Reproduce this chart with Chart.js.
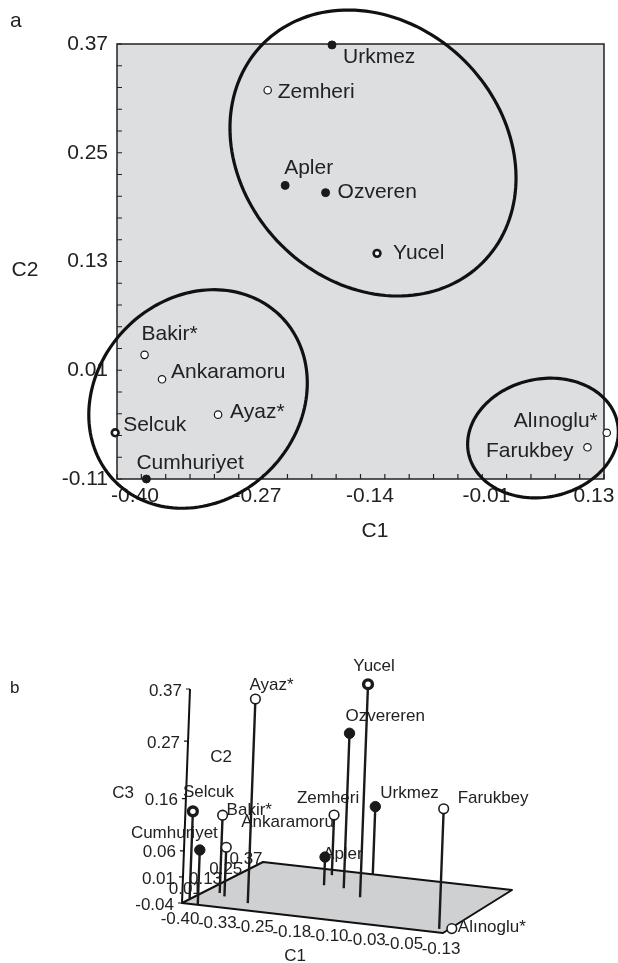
<!DOCTYPE html>
<html><head><meta charset="utf-8">
<script src="https://cdn.jsdelivr.net/npm/chart.js@4.4.0/dist/chart.umd.min.js"></script>
<style>
html,body{margin:0;padding:0;background:#fff;width:618px;height:963px;overflow:hidden;}
canvas{position:absolute;left:0;}
#ca{top:0;} #cb{top:600px;}
</style></head><body>
<canvas id="ca" width="618" height="600"></canvas>
<canvas id="cb" width="618" height="363"></canvas>
<script>
// ---------------- data ----------------
const sites      = ['Urkmez','Zemheri','Apler','Ozveren','Yucel','Bakir*','Ankaramoru','Ayaz*','Selcuk','Cumhuriyet','Alınoglu*','Farukbey'];
const sitesB     = ['Urkmez','Zemheri','Apler','Ozvereren','Yucel','Bakir*','Ankaramoru','Ayaz*','Selcuk','Cumhuriyet','Alınoglu*','Farukbey'];
const markerType = ['filled','open','filled','filled','ring','open','open','open','ring','filled','open','open'];
const c1 = [-0.166,-0.236,-0.217,-0.173,-0.117,-0.370,-0.351,-0.290,-0.402,-0.368, 0.133, 0.112];
const c2 = [ 0.369, 0.319, 0.214, 0.206, 0.139, 0.027, 0.000,-0.039,-0.059,-0.110,-0.059,-0.075];
const c3 = [ 0.090, 0.075, 0.014, 0.257, 0.368, 0.109, 0.054, 0.351, 0.127, 0.065,-0.040, 0.190];

const ticksA_C1 = [-0.40,-0.27,-0.14,-0.01,0.13];
const ticksA_C2 = [-0.11,0.01,0.13,0.25,0.37];
const ticksB_C1 = [-0.40,-0.3243,-0.2486,-0.1729,-0.0971,-0.0214,0.0543,0.13];
const labelsB_C1 = ['-0.40','-0.33','-0.25','-0.18','-0.10','-0.03','-0.05','-0.13'];
const ticksB_C2 = [0.01,0.13,0.25,0.37];
const ticksB_C3 = [0.37,0.27,0.16,0.06,0.01,-0.04];

// group ellipses in (C1,C2) units: centre + two conjugate semi-diameters
const groupEllipses = [
  {cx:-0.1214, cy: 0.2497, ux:0.1193, uy:-0.1209, vx:-0.1000, vy:-0.1014},
  {cx:-0.3118, cy:-0.0217, ux:0.0900, uy: 0.0913, vx: 0.0777, vy:-0.0788},
  {cx: 0.0636, cy:-0.0648, ux:0.0809, uy: 0.0174, vx: 0.0134, vy:-0.0637}
];

// ---------------- layout / style ----------------
const FONT = '"Liberation Sans", Arial, Helvetica, sans-serif';
const INK = '#1a1a1a';
const TXT = '#222';
const labelPosA = [
  ['left',11,12],['left',10,2],['left',-1,-17],['left',12,0],['left',16,0],['left',-3,-21],
  ['left',9,-7],['left',12,-2],['left',8,-8],['left',-10,-16],['right',-9,-12],['right',-14,4]
];
const labelPosB = [
  ['left',5,-13],['center',-6,-17],['left',-2,-3],['left',-4,-17],['center',6,-18],['left',4,-5],
  ['left',15,-25],['left',-6,-14],['left',-10,-19],['right',18,-17],['left',6,-1],['left',14,-10]
];
const xLabelShiftA = [18,21,14,11,-10];

function markerStyle(type, k){
  if (type==='filled') return {r:4*k, bg:INK, bw:1};
  if (type==='ring')   return {r:3.4*k, bg:'#fff', bw:2.6*k};
  return {r:3.7*k, bg:'#fff', bw:1.2*k};
}

// ---------------- panel a ----------------
const stA = markerType.map(t=>markerStyle(t,1));
const panelAPlugin = {
  id:'panelA',
  beforeDraw(chart){
    const {ctx, chartArea:ca} = chart;
    ctx.save();
    ctx.fillStyle = '#dddee0';
    ctx.fillRect(ca.left, ca.top, ca.right-ca.left, ca.bottom-ca.top);
    ctx.restore();
  },
  beforeDatasetsDraw(chart){
    const {ctx, chartArea:ca, scales:{x,y}} = chart;
    ctx.save();
    ctx.strokeStyle = '#222'; ctx.lineWidth = 1.5;
    ctx.strokeRect(ca.left, ca.top, ca.right-ca.left, ca.bottom-ca.top);
    ctx.lineWidth = 1.2;
    ctx.beginPath();
    for (let i=0;i<=20;i++){
      const vy = y.min + i*(y.max-y.min)/20;
      const py = y.getPixelForValue(vy);
      ctx.moveTo(ca.left, py); ctx.lineTo(ca.left+5, py);
      const vx = x.min + i*(x.max-x.min)/20;
      const px = x.getPixelForValue(vx);
      ctx.moveTo(px, ca.bottom); ctx.lineTo(px, ca.bottom-5);
    }
    ctx.stroke();
    ctx.fillStyle = TXT;
    ctx.font = '21px ' + FONT;
    ctx.textBaseline = 'middle';
    ctx.textAlign = 'center';
    ticksA_C1.forEach((v,i)=>{
      ctx.fillText(v.toFixed(2), x.getPixelForValue(v)+xLabelShiftA[i], ca.bottom+17);
    });
    ctx.fillText('C1', 375, 531);
    ctx.fillText('C2', 25, 270);
    ctx.textAlign = 'left';
    ctx.fillText('a', 10, 21);
    sites.forEach((s,i)=>{
      const p = labelPosA[i];
      ctx.textAlign = p[0];
      ctx.fillText(s, x.getPixelForValue(c1[i])+p[1], y.getPixelForValue(c2[i])+p[2]);
    });
    ctx.strokeStyle = '#111'; ctx.lineWidth = 3.2;
    groupEllipses.forEach(e=>{
      ctx.beginPath();
      const N = 160;
      for (let k=0;k<=N;k++){
        const t = k/N*2*Math.PI;
        const px = x.getPixelForValue(e.cx + e.ux*Math.cos(t) + e.vx*Math.sin(t));
        const py = y.getPixelForValue(e.cy + e.uy*Math.cos(t) + e.vy*Math.sin(t));
        k ? ctx.lineTo(px,py) : ctx.moveTo(px,py);
      }
      ctx.closePath(); ctx.stroke();
    });
    ctx.restore();
  }
};

new Chart(document.getElementById('ca'), {
  type:'scatter',
  data:{datasets:[{
    data: sites.map((s,i)=>({x:c1[i], y:c2[i]})),
    pointRadius: stA.map(s=>s.r),
    pointBackgroundColor: stA.map(s=>s.bg),
    pointBorderColor: INK,
    pointBorderWidth: stA.map(s=>s.bw),
    clip:false
  }]},
  options:{
    responsive:false, animation:false, events:[],
    layout:{padding:{left:0, top:44, right:14, bottom:0}, autoPadding:false},
    plugins:{legend:{display:false}, tooltip:{enabled:false}},
    scales:{
      x:{type:'linear', min:-0.40, max:0.13,
         grid:{display:false, drawTicks:false}, border:{display:false},
         ticks:{display:false},
         afterBuildTicks:s=>{s.ticks = ticksA_C1.map(v=>({value:v}));},
         afterFit:s=>{s.height = 600-479; s.paddingLeft = 0; s.paddingRight = 0;}},
      y:{type:'linear', min:-0.11, max:0.37,
         grid:{display:false, drawTicks:false}, border:{display:false},
         ticks:{padding:9, color:TXT, font:{family:FONT, size:21}, callback:v=>Number(v).toFixed(2)},
         afterBuildTicks:s=>{s.ticks = ticksA_C2.map(v=>({value:v}));},
         afterFit:s=>{s.width = 117;}}
    }
  },
  plugins:[panelAPlugin]
});

// ---------------- panel b (oblique 3-D view) ----------------
const rangeB = {c1:[-0.40,0.13], c2:[-0.11,0.37], c3:[-0.04,0.37]};
const view = {ox:182, oy:903, e1:[261,30], e2:[81,-41], e12:[-12,-2], e3:[8,-214]};
function project(a,b,c){
  const f1 = (a-rangeB.c1[0])/(rangeB.c1[1]-rangeB.c1[0]);
  const f2 = (b-rangeB.c2[0])/(rangeB.c2[1]-rangeB.c2[0]);
  const f3 = (c-rangeB.c3[0])/(rangeB.c3[1]-rangeB.c3[0]);
  return {
    x: view.ox + view.e1[0]*f1 + view.e2[0]*f2 + view.e12[0]*f1*f2 + view.e3[0]*f3,
    y: view.oy + view.e1[1]*f1 + view.e2[1]*f2 + view.e12[1]*f1*f2 + view.e3[1]*f3
  };
}
const stB = markerType.map(t=>markerStyle(t,1.3));
const z0 = rangeB.c3[0];

const panelBPlugin = {
  id:'panelB',
  beforeDatasetsDraw(chart){
    const {ctx, scales:{x,y}} = chart;
    const P = p=>[x.getPixelForValue(p.x), y.getPixelForValue(p.y)];
    ctx.save();
    const corners = [
      P(project(rangeB.c1[0],rangeB.c2[0],z0)), P(project(rangeB.c1[1],rangeB.c2[0],z0)),
      P(project(rangeB.c1[1],rangeB.c2[1],z0)), P(project(rangeB.c1[0],rangeB.c2[1],z0))
    ];
    ctx.beginPath();
    corners.forEach((c,i)=> i?ctx.lineTo(c[0],c[1]):ctx.moveTo(c[0],c[1]));
    ctx.closePath();
    ctx.fillStyle = '#cfd0d2'; ctx.fill();
    ctx.strokeStyle = '#111'; ctx.lineWidth = 2; ctx.lineJoin='round'; ctx.stroke();
    const a0 = P(project(rangeB.c1[0],rangeB.c2[0],z0));
    const a1 = P(project(rangeB.c1[0],rangeB.c2[0],rangeB.c3[1]));
    ctx.beginPath(); ctx.moveTo(a0[0],a0[1]); ctx.lineTo(a1[0],a1[1]); ctx.stroke();
    ctx.lineWidth = 1.2; ctx.beginPath();
    ticksB_C3.forEach(v=>{
      const t = P(project(rangeB.c1[0],rangeB.c2[0],v));
      ctx.moveTo(t[0],t[1]); ctx.lineTo(t[0]-4,t[1]);
    });
    ctx.stroke();
    ctx.fillStyle = TXT; ctx.font = '17px ' + FONT; ctx.textBaseline = 'middle';
    ctx.textAlign = 'right';
    ticksB_C3.forEach(v=>{
      const t = P(project(rangeB.c1[0],rangeB.c2[0],v));
      ctx.fillText(v.toFixed(2), t[0]-8, t[1]+2);
    });
    ctx.textAlign = 'center';
    ticksB_C2.forEach(v=>{
      const t = P(project(rangeB.c1[0],v,z0));
      ctx.fillText(v.toFixed(2), t[0]-17, t[1]-3);
    });
    ticksB_C1.forEach((v,i)=>{
      const t = P(project(v,rangeB.c2[0],z0));
      ctx.fillText(labelsB_C1[i], t[0]-2, t[1]+16);
    });
    ctx.fillText('C1', 295, 956-600);
    ctx.fillText('C2', 221, 757-600);
    ctx.fillText('C3', 123, 793-600);
    ctx.textAlign = 'left';
    ctx.fillText('b', 10, 688-600);
    sitesB.forEach((s,i)=>{
      const p = labelPosB[i];
      const t = P(project(c1[i],c2[i],c3[i]));
      ctx.textAlign = p[0];
      ctx.fillText(s, t[0]+p[1], t[1]+p[2]);
    });
    ctx.restore();
  }
};

const stemSets = [];
sites.forEach((s,i)=>{
  if (c3[i] > z0) stemSets.push({
    type:'line', data:[project(c1[i],c2[i],c3[i]), project(c1[i],c2[i],z0)],
    borderColor:INK, borderWidth:2.4, pointRadius:0, fill:false, order:2, clip:false
  });
});

new Chart(document.getElementById('cb'), {
  type:'scatter',
  data:{datasets:[{
    data: sites.map((s,i)=>project(c1[i],c2[i],c3[i])),
    pointRadius: stB.map(s=>s.r),
    pointBackgroundColor: stB.map(s=>s.bg),
    pointBorderColor: INK,
    pointBorderWidth: stB.map(s=>s.bw),
    order:0, clip:false
  }].concat(stemSets)},
  options:{
    responsive:false, animation:false, events:[],
    layout:{padding:0, autoPadding:false},
    plugins:{legend:{display:false}, tooltip:{enabled:false}},
    scales:{
      x:{type:'linear', display:false, min:0, max:618},
      y:{type:'linear', display:false, min:600, max:963, reverse:true}
    }
  },
  plugins:[panelBPlugin]
});
</script>
</body></html>
